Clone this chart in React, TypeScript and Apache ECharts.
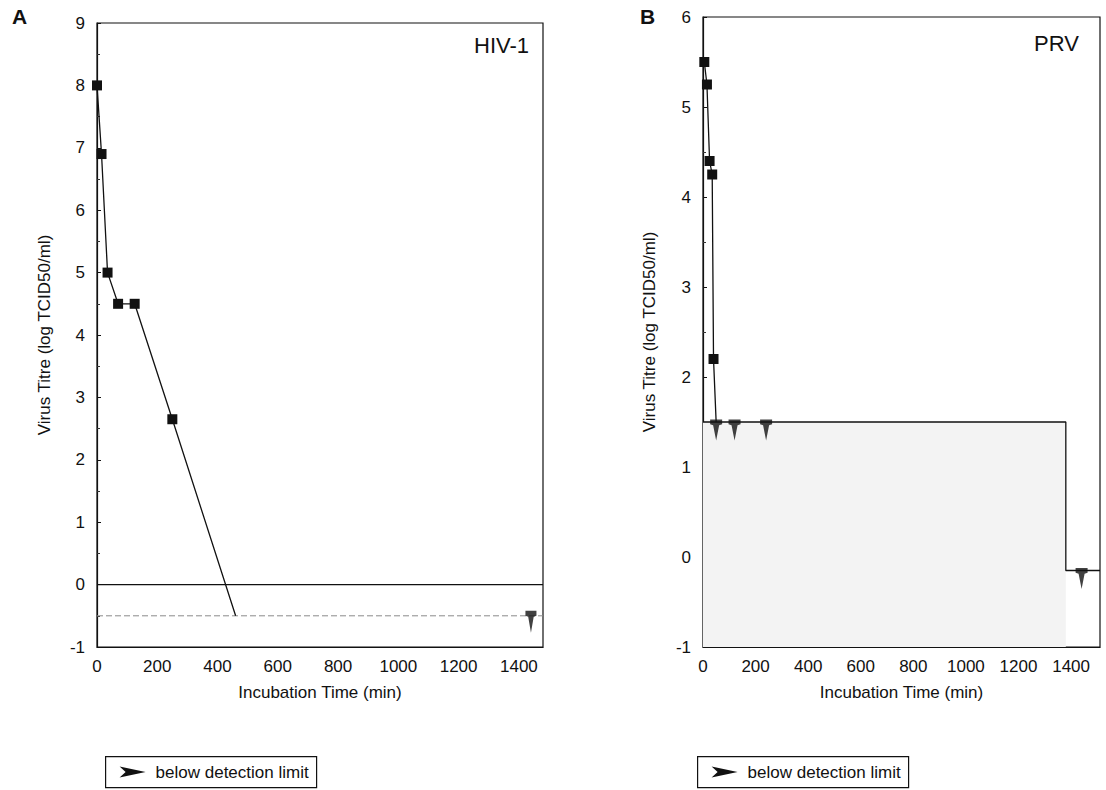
import React, { useEffect, useRef } from "react";
import * as echarts from "echarts";

// Panel A (HIV-1)
const hivPoints: number[][] = [[0, 8.0], [15, 6.9], [35, 5.0], [70, 4.5], [125, 4.5], [250, 2.65]];
const hivFitEnd: number[] = [460, -0.5];
const hivBelow: number[][] = [[1440, -0.5]];
const hivZeroLine: number[][] = [[0, 0], [1480, 0]];
const hivLimitLine: number[][] = [[0, -0.5], [1480, -0.5]];

// Panel B (PRV)
const prvPoints: number[][] = [[5, 5.5], [15, 5.25], [25, 4.4], [35, 4.25], [40, 2.2]];
const prvFitEnd: number[] = [50, 1.5];
const prvBelow: number[][] = [[50, 1.5], [120, 1.5], [240, 1.5], [1440, -0.15]];
const prvLimitStep: number[][] = [[0, 1.5], [1380, 1.5], [1380, -0.15], [1510, -0.15]];
const prvShade: number[][] = [[0, 1.5], [1380, 1.5]];

const xRangeA = { min: 0, max: 1480, interval: 200 };
const xRangeB = { min: 0, max: 1510, interval: 200 };
const yRangeA = { min: -1, max: 9 };
const yRangeB = { min: -1, max: 6 };

const xTitle = "Incubation Time (min)";
const yTitle = "Virus Titre (log TCID50/ml)";
const legendText = "below detection limit";

const FONT = "'Liberation Sans', Arial, sans-serif";
const ARROW = "path://M0,0 L12,0 L12,5 L9,6 L6,22 L3,6 L0,5 Z";
const ARROW_RIGHT = [[0, 0], [26, 5.5], [0, 11], [6, 5.5]];

export default function App() {
  const ref = useRef<HTMLDivElement>(null);
  useEffect(() => {
    if (!ref.current) return;
    const chart = echarts.init(ref.current, null, { renderer: "svg" });
    const xAxisBase = (gridIndex: number, r: { min: number; max: number; interval: number }) => ({
      type: "value",
      gridIndex,
      min: r.min,
      max: r.max,
      interval: r.interval,
      name: xTitle,
      nameLocation: "middle",
      nameGap: 37,
      nameTextStyle: { fontFamily: FONT, fontSize: 17, color: "#111" },
      axisLine: { show: true, onZero: false, lineStyle: { color: "#111", width: 1.2 } },
      axisTick: { show: false },
      splitLine: { show: false },
      axisLabel: {
        fontFamily: FONT, fontSize: 17, color: "#111", margin: 11, showMaxLabel: false,
        formatter: (v: number) => String(v),
      },
    });
    const yAxisBase = (gridIndex: number, r: { min: number; max: number }, gap: number) => ({
      type: "value",
      gridIndex,
      min: r.min,
      max: r.max,
      interval: 1,
      name: yTitle,
      nameLocation: "middle",
      nameGap: gap,
      nameTextStyle: { fontFamily: FONT, fontSize: 17, color: "#111" },
      axisLine: { show: true, onZero: false, lineStyle: { color: "#111", width: 1.2 } },
      axisTick: { show: true, inside: true, length: 4, lineStyle: { color: "#111" } },
      minorTick: { show: true, splitNumber: 2, length: 3, lineStyle: { color: "#333" } },
      splitLine: { show: false },
      axisLabel: { fontFamily: FONT, fontSize: 17, color: "#111", margin: 12 },
    });
    const lineSeries = (xi: number, data: any[], color: string, width: number, type: any = "solid") => ({
      type: "line",
      xAxisIndex: xi,
      yAxisIndex: xi,
      data,
      symbol: "none",
      silent: true,
      lineStyle: { color, width, type },
    });
    const legendGroup = (left: number, top: number) => ({
      type: "group",
      left,
      top,
      children: [
        { type: "rect", shape: { x: 0, y: 0, width: 211, height: 31 }, style: { fill: "#fff", stroke: "#111", lineWidth: 1.2 } },
        { type: "polygon", shape: { points: ARROW_RIGHT.map(p => [p[0] + 14, p[1] + 10]) }, style: { fill: "#111" } },
        { type: "text", x: 50, y: 7, style: { text: legendText, font: `17px ${FONT}`, fill: "#111" } },
      ],
    });

    chart.setOption({
      animation: false,
      backgroundColor: "#fff",
      grid: [
        { left: 97, top: 23, width: 446, height: 624, show: true, borderColor: "#111", borderWidth: 1.2, backgroundColor: "transparent" },
        { left: 703, top: 17, width: 397, height: 630, show: true, borderColor: "#111", borderWidth: 1.2, backgroundColor: "transparent" },
      ],
      xAxis: [xAxisBase(0, xRangeA), xAxisBase(1, xRangeB)],
      yAxis: [yAxisBase(0, yRangeA, 44), yAxisBase(1, yRangeB, 45)],
      series: [
        lineSeries(0, hivZeroLine, "#111", 1.2),
        lineSeries(0, hivLimitLine, "#8a8a8a", 1, [6, 3]),
        {
          type: "line",
          xAxisIndex: 0,
          yAxisIndex: 0,
          data: [...hivPoints, { value: hivFitEnd, symbol: "none" }],
          symbol: "rect",
          symbolSize: 10,
          itemStyle: { color: "#111" },
          lineStyle: { color: "#111", width: 1.3 },
          z: 4,
        },
        {
          type: "scatter",
          xAxisIndex: 0,
          yAxisIndex: 0,
          data: hivBelow,
          symbol: ARROW,
          symbolSize: [11, 22],
          symbolOffset: [0, 6],
          itemStyle: { color: "#111" },
          z: 5,
        },
        {
          type: "line",
          xAxisIndex: 1,
          yAxisIndex: 1,
          data: prvShade,
          symbol: "none",
          silent: true,
          lineStyle: { width: 0 },
          areaStyle: { color: "#f3f3f3", origin: "start", opacity: 1 },
          z: 1,
        },
        lineSeries(1, prvLimitStep, "#111", 1.3),
        {
          type: "line",
          xAxisIndex: 1,
          yAxisIndex: 1,
          data: [...prvPoints, { value: prvFitEnd, symbol: "none" }],
          symbol: "rect",
          symbolSize: 10,
          itemStyle: { color: "#111" },
          lineStyle: { color: "#111", width: 1.3 },
          z: 4,
        },
        {
          type: "scatter",
          xAxisIndex: 1,
          yAxisIndex: 1,
          data: prvBelow,
          symbol: ARROW,
          symbolSize: [12, 21],
          symbolOffset: [0, 8],
          itemStyle: { color: "#111" },
          z: 5,
        },
      ],
      graphic: [
        { type: "text", left: 12, top: 6, style: { text: "A", font: `bold 21px ${FONT}`, fill: "#111" } },
        { type: "text", left: 640, top: 6, style: { text: "B", font: `bold 21px ${FONT}`, fill: "#111" } },
        { type: "text", left: 474, top: 34, style: { text: "HIV-1", font: `22px ${FONT}`, fill: "#111" } },
        { type: "text", left: 1034, top: 32, style: { text: "PRV", font: `22px ${FONT}`, fill: "#111" } },
        legendGroup(105, 756),
        legendGroup(697, 756),
      ],
    });
    return () => chart.dispose();
  }, []);
  return <div ref={ref} style={{ position: "fixed", left: 0, top: 0, width: 1106, height: 790 }} />;
}
